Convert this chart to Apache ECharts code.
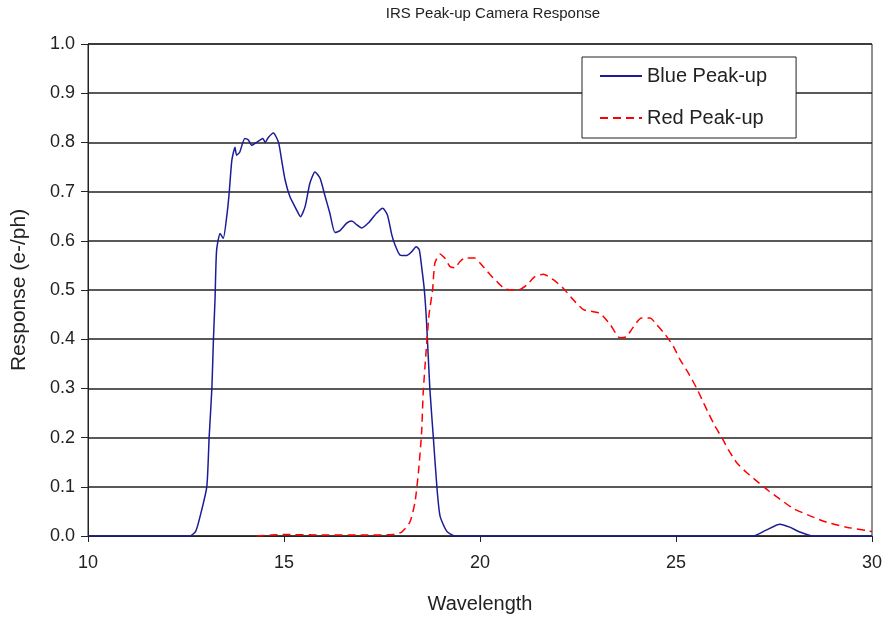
<!DOCTYPE html>
<html>
<head>
<meta charset="utf-8">
<title>IRS Peak-up Camera Response</title>
<script src="https://cdn.jsdelivr.net/npm/echarts@6/dist/echarts.min.js"></script>
<style>
    html, body { margin: 0; padding: 0; background: #fff; }
    #chart { width: 888px; height: 619px; }
</style>
</head>
<body>
<div id="chart"></div>
<script>
// Blue Peak-up: wavelength / response
var blueWave = [10, 12.6, 12.75, 12.86, 13.03, 13.09, 13.16, 13.2, 13.24, 13.28, 13.37, 13.45, 13.54, 13.6, 13.67, 13.75, 13.79, 13.87, 14.0, 14.09, 14.18, 14.3, 14.46, 14.52, 14.6, 14.73, 14.86, 14.94, 15.03, 15.15, 15.32, 15.42, 15.54, 15.66, 15.79, 15.92, 16.05, 16.17, 16.3, 16.42, 16.6, 16.73, 16.85, 16.98, 17.15, 17.36, 17.52, 17.64, 17.75, 17.83, 17.96, 18.13, 18.26, 18.37, 18.45, 18.51, 18.58, 18.64, 18.72, 18.81, 18.9, 18.98, 19.15, 19.36, 26.97, 27.3, 27.65, 27.9, 28.16, 28.5, 30];
var blueResp = [0, 0, 0.01, 0.04, 0.1, 0.2, 0.3, 0.4, 0.48, 0.58, 0.615, 0.605, 0.65, 0.696, 0.764, 0.79, 0.774, 0.78, 0.808, 0.805, 0.794, 0.8, 0.808, 0.8, 0.81, 0.819, 0.8, 0.764, 0.723, 0.69, 0.663, 0.649, 0.67, 0.717, 0.74, 0.727, 0.69, 0.656, 0.617, 0.62, 0.636, 0.64, 0.633, 0.626, 0.636, 0.656, 0.666, 0.652, 0.612, 0.592, 0.571, 0.57, 0.578, 0.588, 0.582, 0.548, 0.5, 0.43, 0.3, 0.2, 0.1, 0.041, 0.01, 0, 0, 0.012, 0.024, 0.018, 0.008, 0, 0];

// Red Peak-up: wavelength / response
var redWave = [14.3, 15.0, 16.0, 17.0, 17.78, 18.0, 18.21, 18.34, 18.43, 18.51, 18.55, 18.62, 18.7, 18.79, 18.85, 18.98, 19.1, 19.23, 19.36, 19.49, 19.62, 19.87, 20.0, 20.26, 20.47, 20.64, 20.98, 21.19, 21.4, 21.62, 21.87, 22.13, 22.38, 22.64, 22.89, 23.06, 23.32, 23.57, 23.74, 23.87, 24.12, 24.34, 24.5, 24.72, 24.93, 25.1, 25.31, 25.53, 25.66, 25.82, 25.99, 26.17, 26.33, 26.55, 26.8, 27.1, 27.36, 27.65, 27.99, 28.42, 28.84, 29.35, 29.86, 30];
var redResp = [0, 0.003, 0.002, 0.002, 0.003, 0.008, 0.028, 0.068, 0.13, 0.21, 0.29, 0.37, 0.45, 0.5, 0.555, 0.573, 0.565, 0.548, 0.545, 0.558, 0.565, 0.565, 0.555, 0.531, 0.514, 0.502, 0.5, 0.51, 0.527, 0.532, 0.521, 0.503, 0.48, 0.46, 0.456, 0.453, 0.43, 0.403, 0.405, 0.42, 0.443, 0.443, 0.43, 0.41, 0.386, 0.359, 0.332, 0.3, 0.278, 0.251, 0.224, 0.2, 0.176, 0.149, 0.129, 0.109, 0.092, 0.075, 0.056, 0.041, 0.028, 0.018, 0.011, 0.009];

var pairs = function(xs, ys) {
    return xs.map(function(x, i) { return [x, ys[i]]; });
};

var chart = echarts.init(document.getElementById('chart'), null, { renderer: 'canvas' });

var options = {
    animation: false,
    backgroundColor: '#fff',
    textStyle: {
        fontFamily: 'Liberation Sans, Arial, sans-serif',
        color: '#222'
    },

    // Title
    title: {
        text: 'IRS Peak-up Camera Response',
        left: 488,
        top: 1,
        textAlign: 'center',
        textStyle: {
            fontSize: 15,
            fontWeight: 'normal',
            color: '#222'
        }
    },

    // Legend box
    legend: {
        orient: 'vertical',
        left: 582,
        top: 57,
        padding: [9, 29, 10, 17],
        itemGap: 22,
        itemWidth: 42,
        itemHeight: 14,
        backgroundColor: '#fff',
        borderColor: '#222',
        borderWidth: 1,
        itemStyle: { opacity: 0 },
        textStyle: { fontSize: 20, color: '#222' },
        data: ['Blue Peak-up', 'Red Peak-up']
    },

    grid: {
        left: 88,
        right: 16,
        top: 44,
        bottom: 82,
        show: true,
        borderColor: '#222',
        borderWidth: 1
    },

    xAxis: {
        type: 'value',
        min: 10,
        max: 30,
        interval: 5,
        name: 'Wavelength',
        nameLocation: 'middle',
        nameGap: 58,
        nameTextStyle: { fontSize: 20, color: '#222' },
        axisLine: { lineStyle: { color: '#222', width: 1 } },
        axisTick: { show: true, inside: false, length: 6, lineStyle: { color: '#222' } },
        axisLabel: { fontSize: 18, color: '#222', margin: 18 },
        splitLine: { show: false }
    },

    yAxis: {
        type: 'value',
        min: 0,
        max: 1,
        interval: 0.1,
        name: 'Response (e-/ph)',
        nameLocation: 'middle',
        nameGap: 58,
        nameTextStyle: { fontSize: 21, color: '#222' },
        axisLine: { show: true, lineStyle: { color: '#222', width: 1 } },
        axisTick: { show: true, inside: false, length: 7, lineStyle: { color: '#222' } },
        axisLabel: {
            fontSize: 18,
            color: '#222',
            margin: 13,
            formatter: function(v) { return v.toFixed(1); }
        },
        splitLine: { show: true, lineStyle: { color: '#222', width: 1.5 } }
    },

    series: [
        {
            name: 'Blue Peak-up',
            type: 'line',
            symbol: 'none',
            smooth: 0.2,
            lineStyle: { color: '#1c1c98', width: 1.5 },
            itemStyle: { color: '#1c1c98' },
            data: pairs(blueWave, blueResp)
        },
        {
            name: 'Red Peak-up',
            type: 'line',
            symbol: 'none',
            smooth: 0.2,
            lineStyle: { color: '#ff0000', width: 1.5, type: [8, 5] },
            itemStyle: { color: '#ff0000' },
            data: pairs(redWave, redResp)
        }
    ]
};

chart.setOption(options);
</script>
</body>
</html>
